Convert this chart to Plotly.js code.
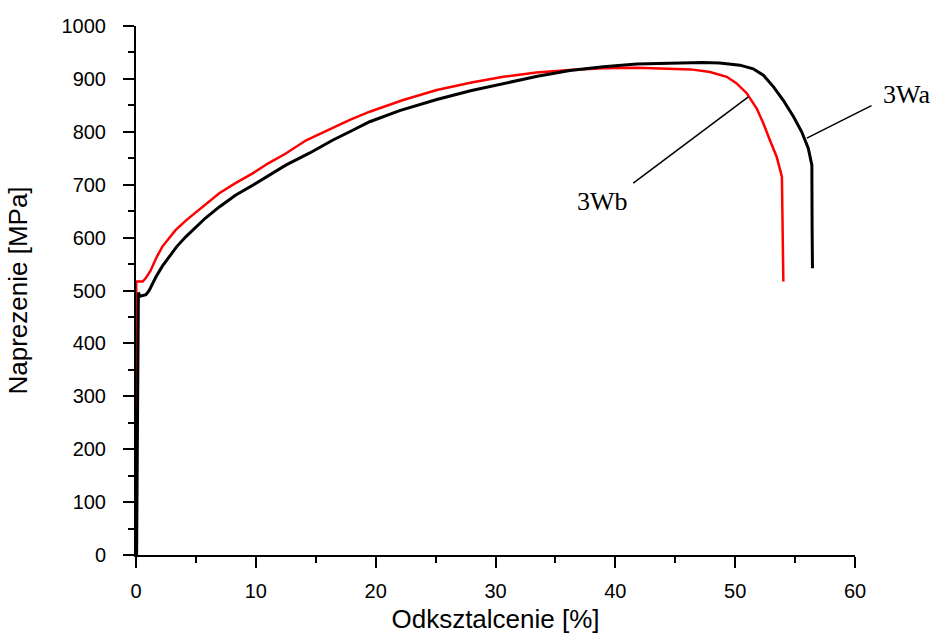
<!DOCTYPE html>
<html>
<head>
<meta charset="utf-8">
<script src="https://cdn.plot.ly/plotly-3.0.1.min.js"></script>
<style>html,body{margin:0;padding:0;background:#fff;}#chart{width:933px;height:634px;}</style>
</head>
<body>
<div id="chart"></div>
<script>
// 3Wa (black) strain [%] and stress [MPa]
const strainA = [0.05, 0.15, 0.2, 0.35, 0.6, 0.83, 1.1, 1.4, 1.67, 2.2, 2.78, 3.4, 4.17, 4.9, 5.8, 6.95, 8.3, 9.74, 11, 12.5, 14.5, 16.4, 18, 19.5, 22, 25.1, 28, 30.65, 33.5, 36.2, 39, 41.8, 44.5, 47.3, 48.7, 50.4, 51.5, 52.35, 53.2, 54.0, 54.86, 55.55, 56.1, 56.4, 56.42, 56.45];
const stressA = [0, 400, 496, 489, 491, 492, 500, 514, 526, 546, 564, 583, 602, 618, 637, 658, 680, 699, 717, 737, 760, 784, 802, 819, 840, 861, 878, 891.5, 905, 916, 923, 928, 930, 931, 930, 926, 919, 907, 885, 860, 829, 800, 769, 737, 620, 542];
// 3Wb (red)
const strainB = [0, 0, 0.02, 0.56, 0.8, 1.2, 1.7, 2.2, 2.7, 3.3, 4.2, 5.0, 5.9, 6.95, 8.3, 9.7, 11, 12.5, 14.2, 16, 17.8, 19.5, 22.3, 25.1, 28, 30.65, 33.4, 36.2, 39, 41.8, 44, 46.3, 47.9, 49.3, 50.1, 50.96, 51.8, 52.35, 52.9, 53.46, 53.9, 54.0, 54.02];
const stressB = [0, 460, 517, 517, 523, 537, 562, 583, 598, 614, 633, 648, 665, 684, 703, 721, 740, 759, 784, 803, 822, 838, 860, 879, 893, 904, 912, 917, 920, 921, 920, 918, 913, 904, 892, 873, 844, 816, 784, 753, 715, 600, 517];

const labels = ["3Wa", "3Wb"];
const labelPos = [[64.3, 871], [38.9, 668]];
const leaderHead = [[55.98, 788], [51.1, 866]];
const leaderTail = [[61.5, 851], [41.37, 701]];

const traces = [
  {x: strainB, y: stressB, mode: "lines", line: {color: "#ff0000", width: 2.5}, hoverinfo: "none"},
  {x: strainA, y: stressA, mode: "lines", line: {color: "#000000", width: 3}, hoverinfo: "none"}
];

const xRange = [0, 60];
const yRange = [0, 1000];
const toPaperX = v => (v - xRange[0]) / (xRange[1] - xRange[0]);
const toPaperY = v => (v - yRange[0]) / (yRange[1] - yRange[0]);

const annotations = [];
for (let i = 0; i < labels.length; i++) {
  annotations.push({x: leaderHead[i][0], y: leaderHead[i][1], xref: "x", yref: "y",
    axref: "x", ayref: "y", ax: leaderTail[i][0], ay: leaderTail[i][1],
    text: "", showarrow: true, arrowhead: 0, arrowwidth: 1.5, arrowcolor: "#000"});
  annotations.push({x: toPaperX(labelPos[i][0]), y: toPaperY(labelPos[i][1]), xref: "paper", yref: "paper",
    text: labels[i], showarrow: false, xanchor: "center", yanchor: "middle",
    font: {family: "Liberation Serif, Times New Roman, serif", size: 26, color: "#000"}});
}

const axisCommon = {
  showgrid: false, zeroline: false, showline: true, linecolor: "#000", linewidth: 2,
  ticks: "outside", ticklen: 11, tickwidth: 2, tickcolor: "#000",
  tickfont: {family: "Liberation Sans, Arial, sans-serif", size: 20, color: "#000"},
  mirror: false, fixedrange: true
};

const layout = {
  width: 933, height: 634,
  margin: {l: 136, r: 78, t: 26, b: 79},
  paper_bgcolor: "#fff", plot_bgcolor: "#fff",
  showlegend: false,
  xaxis: Object.assign({}, axisCommon, {
    range: xRange, tick0: 0, dtick: 10,
    ticklabelstandoff: 6,
    minor: {ticks: "outside", dtick: 5, ticklen: 6, tickwidth: 2, tickcolor: "#000"},
    title: {text: "Odksztalcenie [%]", standoff: 18,
      font: {family: "Liberation Sans, Arial, sans-serif", size: 26, color: "#000"}}
  }),
  yaxis: Object.assign({}, axisCommon, {
    range: yRange, tick0: 0, dtick: 100,
    ticklabelstandoff: 13,
    minor: {ticks: "outside", dtick: 50, ticklen: 6, tickwidth: 2, tickcolor: "#000"},
    title: {text: "Naprezenie [MPa]", standoff: 26,
      font: {family: "Liberation Sans, Arial, sans-serif", size: 26, color: "#000"}}
  }),
  annotations: annotations
};

Plotly.newPlot("chart", traces, layout, {displayModeBar: false, staticPlot: true});
</script>
</body>
</html>
